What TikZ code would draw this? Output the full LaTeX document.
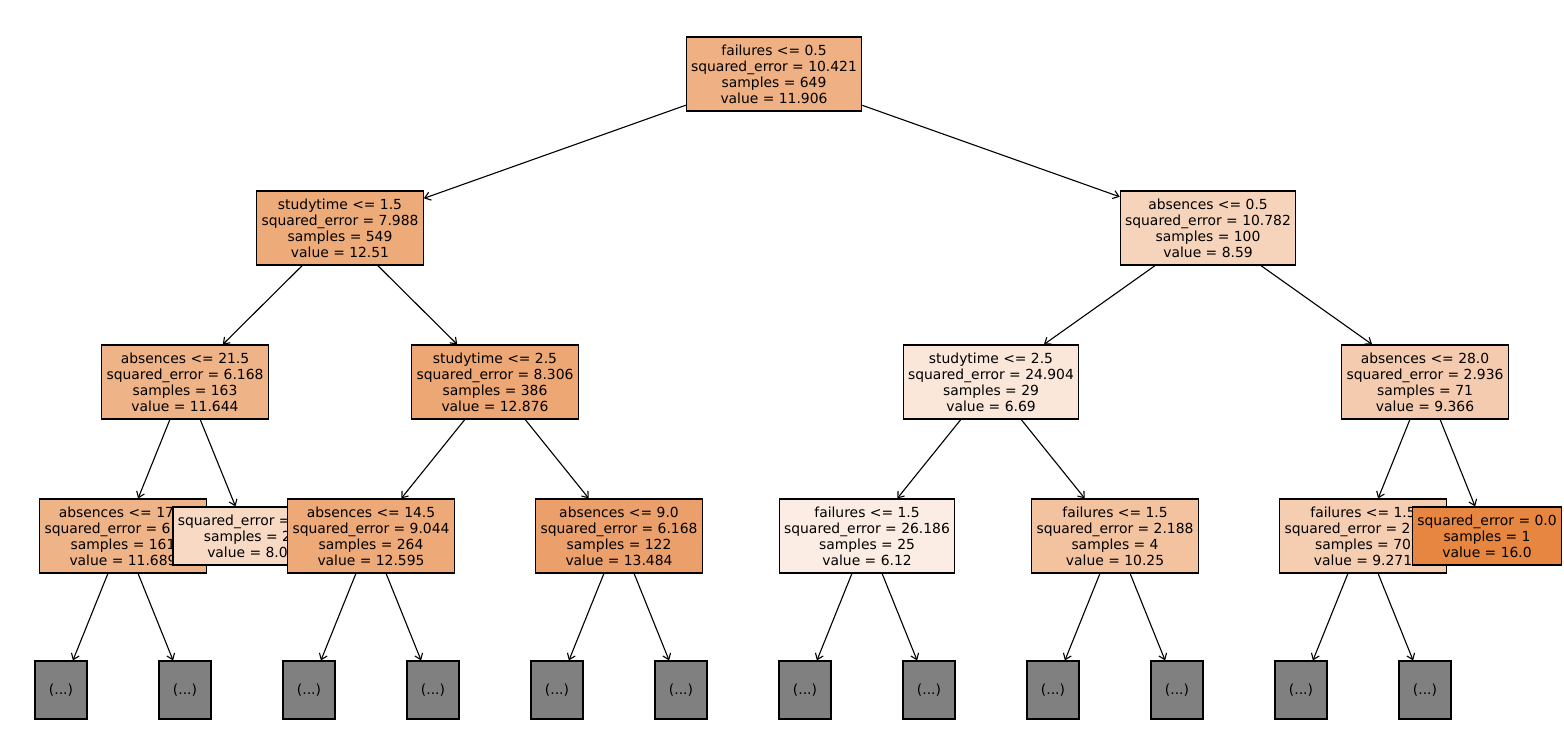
\documentclass[tikz,border=0pt]{standalone}
\usepackage{fontspec}
\setmainfont{DejaVu Sans}
\usetikzlibrary{arrows.meta}
\definecolor{splitorange}{HTML}{E58139}
\definecolor{stubgray}{HTML}{808080}

\begin{document}
\begin{tikzpicture}[x=0.72pt,y=-0.72pt,
    treenode/.style={draw=black, line width=0.8pt, align=center,
      inner xsep=3.5pt, inner ysep=2pt, minimum height=53.3pt,
      font=\fontsize{10}{11.5}\selectfont},
    short/.style={minimum height=41.8pt},
    stubnode/.style={draw=black, line width=0.8pt, fill=stubgray,
      minimum width=37.4pt, minimum height=41.8pt, inner sep=0pt,
      font=\fontsize{10}{11.5}\selectfont},
    >={Straight Barb[length=4pt,width=6pt]}]
  \useasboundingbox (0,0) rectangle (1564,730);

  % nodes in the order the tree is walked
  \node[treenode, fill=splitorange!62!white] (n-0) at (774,74)
    {failures <= 0.5\\squared\_error = 10.421\\samples = 649\\value = 11.906};
  \node[treenode, fill=splitorange!67!white] (n-1-1) at (340,228)
    {studytime <= 1.5\\squared\_error = 7.988\\samples = 549\\value = 12.51};
  \node[treenode, fill=splitorange!60!white] (n-2-1) at (185,382)
    {absences <= 21.5\\squared\_error = 6.168\\samples = 163\\value = 11.644};
  \node[treenode, fill=splitorange!60!white] (n-3-1) at (123,536)
    {absences <= 17.5\\squared\_error = 6.028\\samples = 161\\value = 11.689};
  \node[stubnode] (l-1) at (61,690) {(...)};
  \node[stubnode] (l-2) at (185,690) {(...)};
  \node[treenode, short, fill=splitorange!30!white] (n-3-2) at (247.5,536)
    {squared\_error = 4.0\\samples = 2\\value = 8.0};
  \node[treenode, fill=splitorange!70!white] (n-2-2) at (495,382)
    {studytime <= 2.5\\squared\_error = 8.306\\samples = 386\\value = 12.876};
  \node[treenode, fill=splitorange!68!white] (n-3-3) at (371,536)
    {absences <= 14.5\\squared\_error = 9.044\\samples = 264\\value = 12.595};
  \node[stubnode] (l-3) at (309,690) {(...)};
  \node[stubnode] (l-4) at (433,690) {(...)};
  \node[treenode, fill=splitorange!75!white] (n-3-4) at (619,536)
    {absences <= 9.0\\squared\_error = 6.168\\samples = 122\\value = 13.484};
  \node[stubnode] (l-5) at (557,690) {(...)};
  \node[stubnode] (l-6) at (681,690) {(...)};
  \node[treenode, fill=splitorange!34.5!white] (n-1-2) at (1208,228)
    {absences <= 0.5\\squared\_error = 10.782\\samples = 100\\value = 8.59};
  \node[treenode, fill=splitorange!19!white] (n-2-3) at (991,382)
    {studytime <= 2.5\\squared\_error = 24.904\\samples = 29\\value = 6.69};
  \node[treenode, fill=splitorange!14!white] (n-3-5) at (867,536)
    {failures <= 1.5\\squared\_error = 26.186\\samples = 25\\value = 6.12};
  \node[stubnode] (l-7) at (805,690) {(...)};
  \node[stubnode] (l-8) at (929,690) {(...)};
  \node[treenode, fill=splitorange!48!white] (n-3-6) at (1115,536)
    {failures <= 1.5\\squared\_error = 2.188\\samples = 4\\value = 10.25};
  \node[stubnode] (l-9) at (1053,690) {(...)};
  \node[stubnode] (l-10) at (1177,690) {(...)};
  \node[treenode, fill=splitorange!41!white] (n-2-4) at (1425,382)
    {absences <= 28.0\\squared\_error = 2.936\\samples = 71\\value = 9.366};
  \node[treenode, fill=splitorange!40!white] (n-3-7) at (1363,536)
    {failures <= 1.5\\squared\_error = 2.341\\samples = 70\\value = 9.271};
  \node[stubnode] (l-11) at (1301,690) {(...)};
  \node[stubnode] (l-12) at (1425,690) {(...)};
  \node[treenode, short, fill=splitorange!96!white] (n-3-8) at (1487,536)
    {squared\_error = 0.0\\samples = 1\\value = 16.0};

  % arrows
  \path[->, line width=0.8pt] (n-0) edge (n-1-1) (n-0) edge (n-1-2);
  \path[->, line width=0.8pt] (n-1-1) edge (n-2-1) (n-1-1) edge (n-2-2);
  \path[->, line width=0.8pt] (n-1-2) edge (n-2-3) (n-1-2) edge (n-2-4);
  \path[->, line width=0.8pt] (n-2-1) edge (n-3-1) (n-2-1) edge (n-3-2);
  \path[->, line width=0.8pt] (n-2-2) edge (n-3-3) (n-2-2) edge (n-3-4);
  \path[->, line width=0.8pt] (n-2-3) edge (n-3-5) (n-2-3) edge (n-3-6);
  \path[->, line width=0.8pt] (n-2-4) edge (n-3-7) (n-2-4) edge (n-3-8);
  \path[->, line width=0.8pt] (n-3-1) edge (l-1) (n-3-1) edge (l-2);
  \path[->, line width=0.8pt] (n-3-3) edge (l-3) (n-3-3) edge (l-4);
  \path[->, line width=0.8pt] (n-3-4) edge (l-5) (n-3-4) edge (l-6);
  \path[->, line width=0.8pt] (n-3-5) edge (l-7) (n-3-5) edge (l-8);
  \path[->, line width=0.8pt] (n-3-6) edge (l-9) (n-3-6) edge (l-10);
  \path[->, line width=0.8pt] (n-3-7) edge (l-11) (n-3-7) edge (l-12);
\end{tikzpicture}
\end{document}
